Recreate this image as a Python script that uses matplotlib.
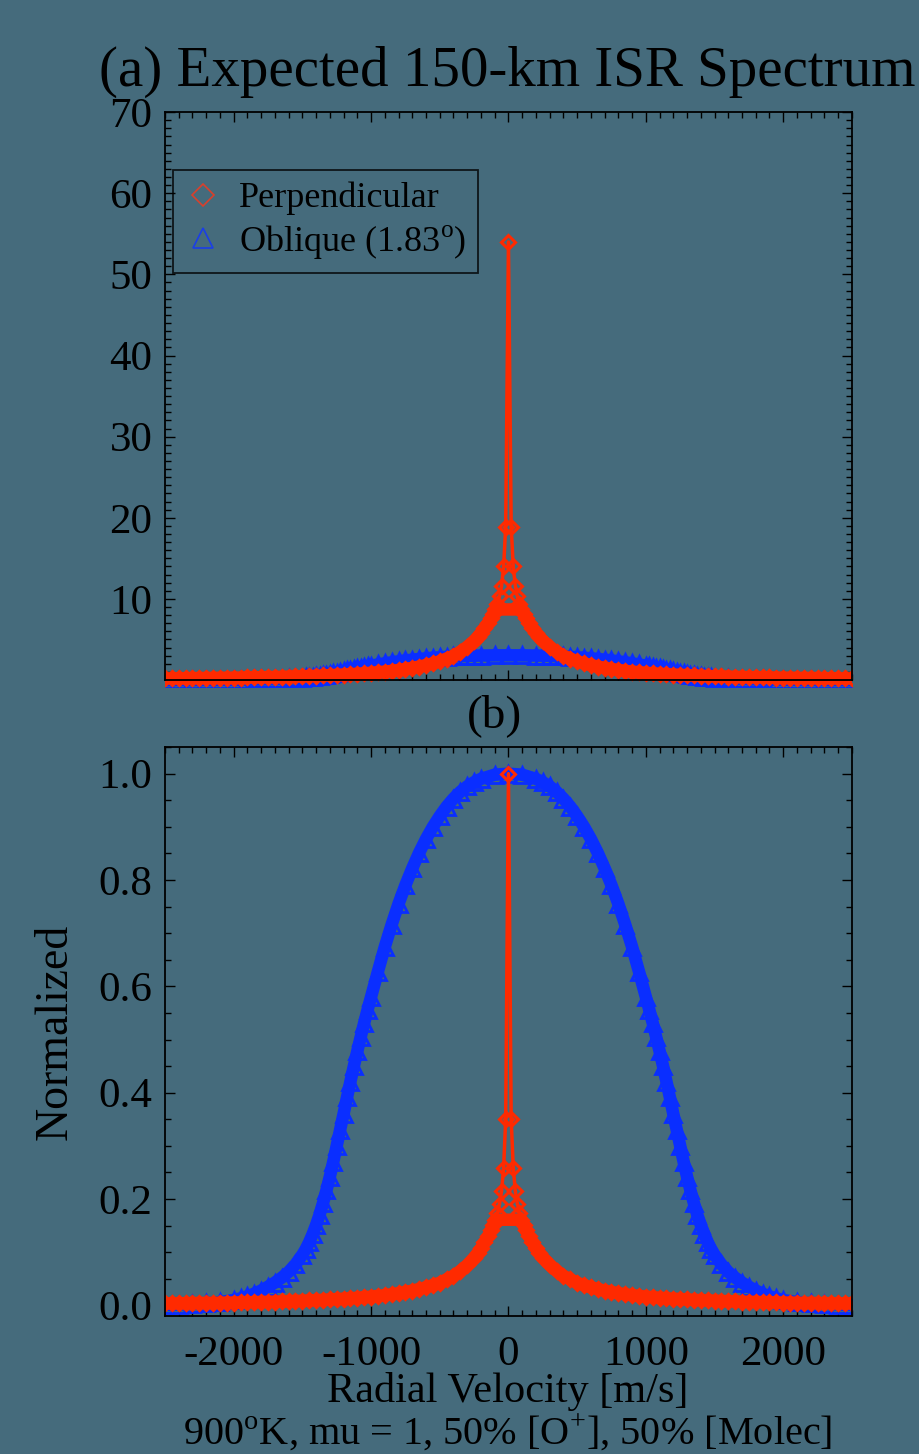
import numpy as np
import matplotlib.pyplot as plt
from matplotlib.lines import Line2D
from matplotlib.ticker import MultipleLocator
from matplotlib.transforms import Bbox, TransformedBbox

plt.rcParams['font.family'] = ['Liberation Serif', 'DejaVu Serif']
plt.rcParams['mathtext.fontset'] = 'custom'
plt.rcParams['mathtext.rm'] = 'Liberation Serif'

# half spectra (v >= 0), spectra are symmetric about 0 m/s
perp_v = np.array([0, 20, 35, 50, 65, 80, 95, 110, 125, 150, 175, 200, 225, 250,
                   300, 350, 400, 450, 500, 550, 600, 650, 700, 750, 800, 850, 900,
                   950, 1000, 1050, 1100, 1150, 1200, 1250, 1300, 1350, 1400, 1450,
                   1500, 1550, 1600, 1650, 1700, 1750, 1800, 1850, 1900, 1950, 2000,
                   2050, 2100, 2150, 2200, 2250, 2300, 2350, 2400, 2450, 2500])
perp_s = np.array([54.0, 18.9, 14.0, 11.6, 10.3, 9.4, 8.7, 8.2, 7.7, 7.0, 6.4, 5.8, 5.3, 4.85,
                   4.1, 3.5, 3.0, 2.65, 2.3, 2.05, 1.84, 1.66, 1.5, 1.36, 1.24, 1.13, 1.04,
                   0.96, 0.89, 0.83, 0.77, 0.72, 0.68, 0.64, 0.60, 0.56, 0.53, 0.50,
                   0.47, 0.45, 0.42, 0.40, 0.38, 0.36, 0.35, 0.33, 0.32, 0.30, 0.29,
                   0.28, 0.27, 0.26, 0.25, 0.24, 0.23, 0.22, 0.21, 0.21, 0.20])

obl_v = np.array([0, 100, 200, 250, 300, 350, 400, 450, 500, 550, 600, 650, 700, 750,
                  800, 850, 900, 950, 1000, 1025, 1050, 1075, 1100, 1125, 1150, 1175,
                  1200, 1225, 1250, 1275, 1300, 1325, 1350, 1375, 1400, 1425, 1450,
                  1475, 1500, 1550, 1600, 1650, 1700, 1750, 1800, 1850, 1900, 1950,
                  2000, 2100, 2200, 2300, 2400, 2500])
obl_s = np.array([3.05, 3.044, 3.020, 3.001, 2.977, 2.946, 2.907, 2.861, 2.806, 2.745,
                  2.675, 2.596, 2.507, 2.410, 2.303, 2.184, 2.056, 1.915, 1.769, 1.696,
                  1.620, 1.540, 1.458, 1.373, 1.284, 1.193, 1.098, 1.007, 0.915, 0.824,
                  0.738, 0.659, 0.586, 0.519, 0.461, 0.409, 0.363, 0.323, 0.290, 0.235,
                  0.192, 0.159, 0.131, 0.107, 0.085, 0.067, 0.052, 0.040, 0.031, 0.018,
                  0.012, 0.008, 0.005, 0.003])

xticks = [-2000, -1000, 0, 1000, 2000]
yticks_a = [10, 20, 30, 40, 50, 60, 70]
yticks_b = [0.0, 0.2, 0.4, 0.6, 0.8, 1.0]


def mirror(v, s):
    return np.concatenate([-v[:0:-1], v]), np.concatenate([s[:0:-1], s])


vp, sp = mirror(perp_v, perp_s)
vo, so = mirror(obl_v, obl_s)
wing = np.abs(vp) >= 95   # broad part of the perpendicular spectrum

bg = '#456b7c'
red = '#ff2a00'
blue = '#0a2eff'

fig = plt.figure(figsize=(9.2, 14.54), dpi=100, facecolor=bg)
ax1 = fig.add_axes([0.1793, 0.5323, 0.7467, 0.3906])
ax2 = fig.add_axes([0.1793, 0.0949, 0.7467, 0.3913])


def style(ax):
    ax.set_facecolor('none')
    for s in ax.spines.values():
        s.set_linewidth(1.3)
    ax.tick_params(which='both', direction='in', top=True, right=True,
                   labelsize=31, width=1)
    ax.tick_params(which='major', length=7.5, pad=9)
    ax.tick_params(which='minor', length=4)
    ax.set_xlim(-2500, 2500)
    ax.xaxis.set_minor_locator(MultipleLocator(100))


def draw(ax, scale_o, scale_p, ybelow):
    clip = TransformedBbox(Bbox([[0, -ybelow], [1, 1]]), ax.transAxes)
    lines = []
    lines += ax.plot(vo, so / scale_o, '-', color=blue, lw=9, solid_capstyle='butt')
    lines += ax.plot(vo, so / scale_o, 'none', marker='^', ms=11, mfc='none',
                     mec=blue, mew=2)
    lines += ax.plot(vp[wing], sp[wing] / scale_p, '-', color=red, lw=9,
                     solid_capstyle='butt')
    lines += ax.plot(vp, sp / scale_p, '-', color=red, lw=2.5, marker='D', ms=7.5,
                     mfc='none', mec=red, mew=2.2)
    for ln in lines:
        ln.set_clip_path(None)
        ln.set_clip_box(clip)


# (a) raw spectra
draw(ax1, 1.0, 1.0, 0.012)
style(ax1)
ax1.set_ylim(0, 70)
ax1.set_yticks(yticks_a)
ax1.yaxis.set_minor_locator(MultipleLocator(1))
ax1.set_xticks(xticks)
ax1.tick_params(labelbottom=False)

h1 = Line2D([], [], ls='none', marker='D', ms=11, mfc='none', mec='#d8402c', mew=1.2)
h2 = Line2D([], [], ls='none', marker='^', ms=15, mfc='none', mec='#1a3ee8', mew=1.2)
leg = ax1.legend([h1, h2], ['Perpendicular', 'Oblique (1.83$^{\\rm o}$)'],
                 loc='upper left', bbox_to_anchor=(0.0116, 0.898), fontsize=26,
                 frameon=True, fancybox=False, handlelength=1.0, handletextpad=0.5,
                 borderpad=0.33, labelspacing=0.2, borderaxespad=0)
leg.get_frame().set_facecolor('none')
leg.get_frame().set_edgecolor('black')
leg.get_frame().set_linewidth(1.3)

# (b) normalized spectra
draw(ax2, so.max(), sp.max(), 0.0)
style(ax2)
ax2.set_ylim(-0.02, 1.05)
ax2.set_yticks(yticks_b)
ax2.set_yticklabels(['%.1f' % t for t in yticks_b])
ax2.yaxis.set_minor_locator(MultipleLocator(0.05))
ax2.set_xticks(xticks)
ax2.set_xticklabels([str(t) for t in xticks])
ax2.tick_params(axis='x', pad=14)

fig.text(0.5516, 0.9505, '(a) Expected 150-km ISR Spectrum', ha='center', va='center',
         fontsize=41)
fig.text(0.538, 0.508, '(b)', ha='center', va='center', fontsize=34)
fig.text(0.06, 0.29, 'Normalized', rotation=90, ha='center', va='center', fontsize=33)
fig.text(0.5516, 0.0433, 'Radial Velocity [m/s]', ha='center', va='center', fontsize=30.5)
fig.text(0.5516, 0.0144, '900$^{\\rm o}$K, mu = 1, 50% [O$^{+}$], 50% [Molec]',
         ha='center', va='center', fontsize=29)

fig.savefig('out.png', dpi=100, facecolor=bg)
